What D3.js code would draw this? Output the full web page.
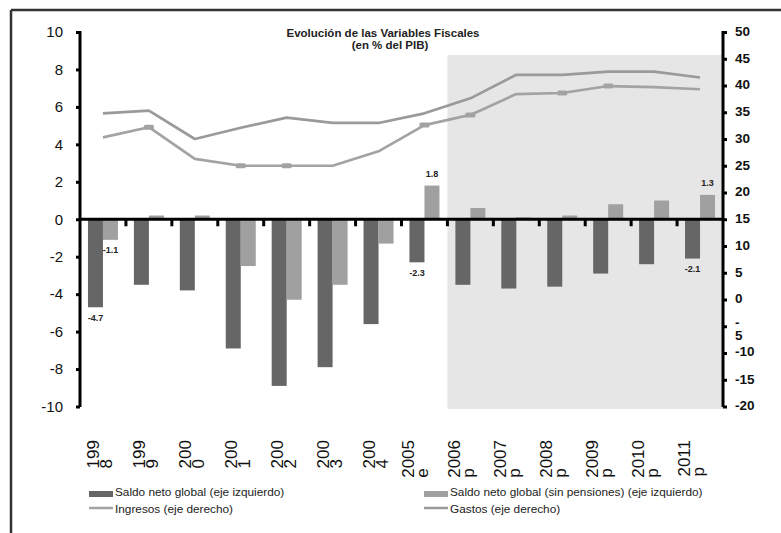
<!DOCTYPE html>
<html>
<head>
<meta charset="utf-8">
<script src="https://cdn.jsdelivr.net/npm/d3@7"></script>
<style>
  body { margin: 0; background: #fff; }
  svg { display: block; }
  text { font-family: "Liberation Sans", Arial, sans-serif; }
</style>
</head>
<body>
<svg width="781" height="533"></svg>
<script>
// categories (with the wrapped lines used on the x axis)
var cats = ["1998", "1999", "2000", "2001", "2002", "2003", "2004", "2005e", "2006p", "2007p", "2008p", "2009p", "2010p", "2011p"];
var catLines = [["199", "8"], ["199", "9"], ["200", "0"], ["200", "1"], ["200", "2"], ["200", "3"], ["200", "4"],
                ["2005", "e"], ["2006", "p"], ["2007", "p"], ["2008", "p"], ["2009", "p"], ["2010", "p"], ["2011", "p"]];
var projected = ["2006p", "2007p", "2008p", "2009p", "2010p", "2011p"];

// series (% del PIB)
var saldo = [-4.7, -3.5, -3.8, -6.9, -8.9, -7.9, -5.6, -2.3, -3.5, -3.7, -3.6, -2.9, -2.4, -2.1];
var saldoSP = [-1.1, 0.2, 0.2, -2.5, -4.3, -3.5, -1.3, 1.8, 0.6, 0.1, 0.2, 0.8, 1.0, 1.3];
var ingresos = [30.3, 32.2, 26.3, 25.0, 25.0, 25.0, 27.7, 32.6, 34.5, 38.4, 38.6, 39.9, 39.7, 39.3];
var gastos = [34.8, 35.3, 30.0, 32.1, 34.0, 33.0, 33.0, 34.8, 37.6, 42.0, 42.0, 42.6, 42.6, 41.5];
var ingresosMarks = ["1999", "2001", "2002", "2005e", "2006p", "2008p", "2009p"];
var labeledCats = ["1998", "2005e", "2011p"];

// ticks
var leftTicks = [-10, -8, -6, -4, -2, 0, 2, 4, 6, 8, 10];
var rightTicks = [-20, -15, -10, -5, 0, 5, 10, 15, 20, 25, 30, 35, 40, 45, 50];

var titleLines = ["Evolución de las Variables Fiscales", "(en % del PIB)"];
var legendItems = ["Saldo neto global (eje izquierdo)", "Saldo neto global (sin pensiones) (eje izquierdo)",
                   "Ingresos (eje derecho)", "Gastos (eje derecho)"];

var svg = d3.select("svg");
var pLeft = 80, pRight = 723, pTop = 32, pBottom = 406.5;

// plain hyphen for negatives, as in the original
function fmt(d) { return String(d); }
function fmt1(d) { return d.toFixed(1); }

var x = d3.scaleBand().domain(cats).range([pLeft, pRight]).paddingInner(0).paddingOuter(0);
var barW = 15;
var xs = d3.scaleBand().domain(["a", "b"])
  .range([x.bandwidth() / 2 - barW, x.bandwidth() / 2 + barW]);
var yL = d3.scaleLinear().domain([-10, 10]).range([pBottom, pTop]);
var yR = d3.scaleLinear().domain([-20, 50]).range([pBottom, pTop]);

// frame (only the top and left edges show in the window)
svg.append("line").attr("x1", 11).attr("y1", 10).attr("x2", 781).attr("y2", 10)
  .attr("stroke", "#333").attr("stroke-width", 2.5);
svg.append("line").attr("x1", 11).attr("y1", 10).attr("x2", 11).attr("y2", 533)
  .attr("stroke", "#333").attr("stroke-width", 2.5);

// shaded projection area
svg.append("rect")
  .attr("x", x(projected[0]))
  .attr("y", 55)
  .attr("width", pRight - x(projected[0]))
  .attr("height", 409 - 55)
  .attr("fill", "#e6e6e6");

// title
svg.append("text").attr("x", 383).attr("y", 37).attr("text-anchor", "middle")
  .attr("font-size", 11.5).attr("font-weight", "bold").attr("fill", "#222").text(titleLines[0]);
svg.append("text").attr("x", 390).attr("y", 49).attr("text-anchor", "middle")
  .attr("font-size", 11.5).attr("font-weight", "bold").attr("fill", "#222").text(titleLines[1]);

// bars
function drawBars(vals, key, color) {
  svg.append("g").selectAll("rect")
    .data(vals)
    .enter().append("rect")
      .attr("x", function(d, i) { return x(cats[i]) + xs(key); })
      .attr("y", function(d) { return yL(Math.max(0, d)); })
      .attr("width", xs.bandwidth())
      .attr("height", function(d) { return Math.abs(yL(d) - yL(0)); })
      .attr("fill", color);
}
drawBars(saldo, "a", "#666666");
drawBars(saldoSP, "b", "#a0a0a0");

// value labels
function drawLabels(vals, key) {
  svg.append("g").selectAll("text")
    .data(vals.map(function(d, i) { return {v: d, c: cats[i]}; })
      .filter(function(d) { return labeledCats.indexOf(d.c) >= 0; }))
    .enter().append("text")
      .attr("x", function(d) { return x(d.c) + xs(key) + xs.bandwidth() / 2; })
      .attr("y", function(d) { return d.v < 0 ? yL(d.v) + 13.5 : yL(d.v) - 9; })
      .attr("text-anchor", "middle")
      .attr("font-size", 9).attr("font-weight", "bold").attr("fill", "#222")
      .text(function(d) { return fmt1(d.v); });
}
drawLabels(saldo, "a");
drawLabels(saldoSP, "b");

// lines
var line = d3.line()
  .x(function(d, i) { return x(cats[i]) + x.bandwidth() / 2; })
  .y(function(d) { return yR(d); });
svg.append("path").datum(gastos).attr("d", line)
  .attr("fill", "none").attr("stroke", "#9a9a9a").attr("stroke-width", 2.7).attr("stroke-linejoin", "round");
svg.append("path").datum(ingresos).attr("d", line)
  .attr("fill", "none").attr("stroke", "#a3a3a3").attr("stroke-width", 2.7).attr("stroke-linejoin", "round");
svg.append("g").selectAll("rect")
  .data(ingresos.map(function(d, i) { return {v: d, c: cats[i]}; })
    .filter(function(d) { return ingresosMarks.indexOf(d.c) >= 0; }))
  .enter().append("rect")
    .attr("x", function(d) { return x(d.c) + x.bandwidth() / 2 - 5; })
    .attr("y", function(d) { return yR(d.v) - 2.5; })
    .attr("width", 10).attr("height", 5).attr("rx", 1.5)
    .attr("fill", "#a3a3a3");

// x axis (at zero of the left axis)
var y0 = yL(0);
svg.append("line").attr("x1", pLeft).attr("x2", pRight).attr("y1", y0).attr("y2", y0)
  .attr("stroke", "#000").attr("stroke-width", 3);
svg.append("g").selectAll("line")
  .data(cats.slice(1))
  .enter().append("line")
    .attr("x1", function(d) { return x(d); }).attr("x2", function(d) { return x(d); })
    .attr("y1", y0).attr("y2", y0 + 7)
    .attr("stroke", "#000").attr("stroke-width", 3);

// rotated, wrapped category labels
var labTop = 440;
var xl = svg.append("g").selectAll("g")
  .data(catLines)
  .enter().append("g");
xl.each(function(lines, i) {
  var g = d3.select(this);
  var maxLen = d3.max(lines, function(s) { return s.length; });
  var cx = x(cats[i]) + x.bandwidth() / 2 - 4 - 6 * (maxLen - 3);
  var t = g.selectAll("text").data(lines).enter().append("text")
    .attr("font-size", 17).attr("fill", "#111")
    .attr("y", function(d, j) { return j * 13.5; })
    .text(function(d) { return d; });
  var L = d3.max(t.nodes(), function(n) { return n.getComputedTextLength(); });
  t.attr("x", -L);
  g.attr("transform", "translate(" + cx + "," + labTop + ") rotate(-90)");
});

// left axis
var axL = svg.append("g").attr("transform", "translate(" + pLeft + ",0)")
  .call(d3.axisLeft(yL).tickValues(leftTicks).tickFormat(fmt).tickSize(4).tickSizeOuter(0).tickPadding(13));
axL.select(".domain").attr("stroke-width", 3).attr("d", "M0," + (pBottom + 0.5) + "V" + (pTop - 1));
axL.selectAll(".tick line").attr("stroke-width", 3);
axL.selectAll(".tick text").attr("font-size", 15).attr("font-family", "Liberation Sans, Arial, sans-serif").attr("fill", "#111");

// right axis
var axR = svg.append("g").attr("transform", "translate(" + pRight + ",0)")
  .call(d3.axisRight(yR).tickValues(rightTicks).tickFormat(fmt).tickSize(4).tickSizeOuter(0).tickPadding(8));
axR.select(".domain").attr("stroke-width", 3).attr("d", "M0," + (pBottom + 0.5) + "V" + (pTop - 1));
axR.selectAll(".tick line").attr("stroke-width", 3);
axR.selectAll(".tick text").attr("font-size", 13.5).attr("font-weight", "bold")
  .attr("font-family", "Liberation Sans, Arial, sans-serif").attr("fill", "#111")
  .attr("dy", "0.25em");
// "-10" sits a little low, under the wrapped "-5"
axR.selectAll(".tick text").filter(function(d) { return d === -10; }).attr("dy", "0.2em");
// "-5" wraps into two lines in the original
axR.selectAll(".tick text").filter(function(d) { return d === -5; })
  .each(function() {
    var t = d3.select(this), tx = t.attr("x");
    t.text(null).attr("dy", null);
    t.append("tspan").attr("x", tx).attr("dy", "0.0em").text("-");
    t.append("tspan").attr("x", tx).attr("dy", "0.95em").text("5");
  });

// legend
var leg = [
  {x: 89, y: 491, type: "rect", color: "#666666", label: legendItems[0]},
  {x: 424, y: 491, type: "rect", color: "#a0a0a0", label: legendItems[1]},
  {x: 89, y: 508, type: "line", color: "#a3a3a3", label: legendItems[2]},
  {x: 424, y: 508, type: "line", color: "#9a9a9a", label: legendItems[3]}
];
leg.forEach(function(d) {
  if (d.type === "rect") {
    svg.append("rect").attr("x", d.x).attr("y", d.y).attr("width", 24).attr("height", 6).attr("fill", d.color);
  } else {
    svg.append("line").attr("x1", d.x).attr("x2", d.x + 24).attr("y1", d.y).attr("y2", d.y)
      .attr("stroke", d.color).attr("stroke-width", 2.5);
  }
  svg.append("text").attr("x", d.x + 26).attr("y", d.y + 4.5)
    .attr("font-size", 11.8).attr("fill", "#222").text(d.label);
});
</script>
</body>
</html>
